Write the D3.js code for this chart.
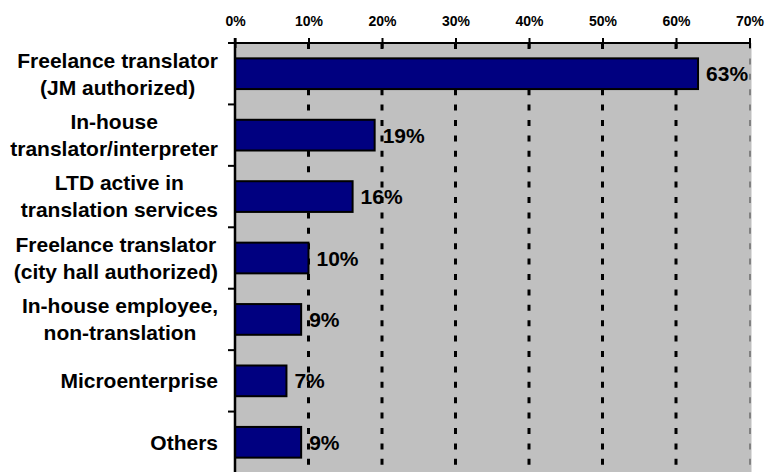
<!DOCTYPE html>
<html>
<head>
<meta charset="utf-8">
<script src="https://cdn.jsdelivr.net/npm/d3@7"></script>
<style>
  html, body { margin: 0; padding: 0; background: #ffffff; }
  svg { display: block; }
  text { font-family: "Liberation Sans", Arial, sans-serif; font-weight: bold; fill: #000; }
</style>
</head>
<body>
<svg id="chart" width="770" height="472"></svg>
<script>
// Respondent categories (each entry is the label's lines)
const categories = [
  ["Freelance translator", "(JM authorized)"],
  ["In-house", "translator/interpreter"],
  ["LTD active in", "translation services"],
  ["Freelance translator", "(city hall authorized)"],
  ["In-house employee,", "non-translation"],
  ["Microenterprise"],
  ["Others"]
];
// Share of respondents, in percent
const shares = [63, 19, 16, 10, 9, 7, 9];
// Axis ticks, in percent
const tickValues = [0, 10, 20, 30, 40, 50, 60, 70];
const tickLabels = ["0%", "10%", "20%", "30%", "40%", "50%", "60%", "70%"];

const svg = d3.select("#chart");
const plot = { left: 235, right: 749.5, top: 43, bottom: 473 };
const labelRight = 218;

const keys = categories.map((c, i) => i);
const x = d3.scaleLinear().domain([0, 70]).range([plot.left, plot.right]);
const y = d3.scaleBand().domain(keys).range([plot.top, plot.bottom])
  .paddingInner(0.5).paddingOuter(0.25);

// Plot background
svg.append("rect")
  .attr("x", plot.left).attr("y", plot.top)
  .attr("width", plot.right - plot.left + 2).attr("height", plot.bottom - plot.top)
  .attr("fill", "#c0c0c0");

// Dashed gridlines
svg.append("g").selectAll("line")
  .data(tickValues.filter(v => v > 0 && v < 70))
  .join("line")
  .attr("x1", d => x(d)).attr("x2", d => x(d))
  .attr("y1", plot.top).attr("y2", plot.bottom)
  .attr("stroke", "#000").attr("stroke-width", 3)
  .attr("stroke-dasharray", "6,9.4");

// Right border of the plot area
svg.append("line")
  .attr("x1", x(70) + 0.5).attr("x2", x(70) + 0.5)
  .attr("y1", plot.top).attr("y2", plot.bottom)
  .attr("stroke", "#808080").attr("stroke-width", 2)
  .attr("stroke-dasharray", "6,9.4");

// Bars
svg.append("g").selectAll("rect")
  .data(shares)
  .join("rect")
  .attr("x", x(0))
  .attr("y", (d, i) => y(i))
  .attr("width", d => x(d) - x(0))
  .attr("height", y.bandwidth())
  .attr("fill", "#000080")
  .attr("stroke", "#000").attr("stroke-width", 2);

// Value labels
svg.append("g").selectAll("text")
  .data(shares)
  .join("text")
  .attr("x", d => x(d) + 8)
  .attr("y", (d, i) => y(i) + y.bandwidth() / 2 + 7.5)
  .attr("font-size", 21)
  .text(d => d + "%");

// Top axis with ticks crossing the frame line
const xAxis = d3.axisTop(x)
  .tickValues(tickValues)
  .tickFormat((d, i) => tickLabels[i])
  .tickSize(5).tickPadding(12);
const gx = svg.append("g")
  .attr("transform", `translate(0,${plot.top})`)
  .call(xAxis);
gx.select(".domain").remove();
gx.selectAll(".tick line").attr("y1", 5).attr("y2", -5)
  .attr("stroke", "#000").attr("stroke-width", 2);
gx.selectAll(".tick text")
  .attr("font-size", 14).attr("font-family", null).attr("fill", "#000");
gx.append("line")
  .attr("x1", plot.left).attr("x2", plot.right + 1)
  .attr("y1", 0).attr("y2", 0)
  .attr("stroke", "#000").attr("stroke-width", 2);

// Left axis: band boundary ticks and axis line
const step = y.step();
const boundaries = d3.range(categories.length + 1).map(i => y(0) - step * y.paddingOuter() + i * step);
svg.append("g").selectAll("line")
  .data(boundaries)
  .join("line")
  .attr("x1", plot.left - 7).attr("x2", plot.left)
  .attr("y1", d => d).attr("y2", d => d)
  .attr("stroke", "#000").attr("stroke-width", 2);
svg.append("line")
  .attr("x1", plot.left).attr("x2", plot.left)
  .attr("y1", plot.top - 5).attr("y2", plot.bottom)
  .attr("stroke", "#000").attr("stroke-width", 2.5);

// Category labels: lines centred within a block that is right-aligned to the axis
const lineGap = 27;
const capHalf = 7.3;
const labels = svg.append("g");
categories.forEach((lines, i) => {
  const cy = y(i) + y.bandwidth() / 2;
  const g = labels.append("g");
  const first = cy + capHalf - (lines.length - 1) * lineGap / 2;
  const texts = lines.map((line, j) => g.append("text")
    .attr("y", first + j * lineGap)
    .attr("font-size", 21)
    .attr("text-anchor", "middle")
    .text(line));
  const maxW = d3.max(texts, t => t.node().getComputedTextLength());
  texts.forEach(t => t.attr("x", labelRight - maxW / 2));
});
</script>
</body>
</html>
